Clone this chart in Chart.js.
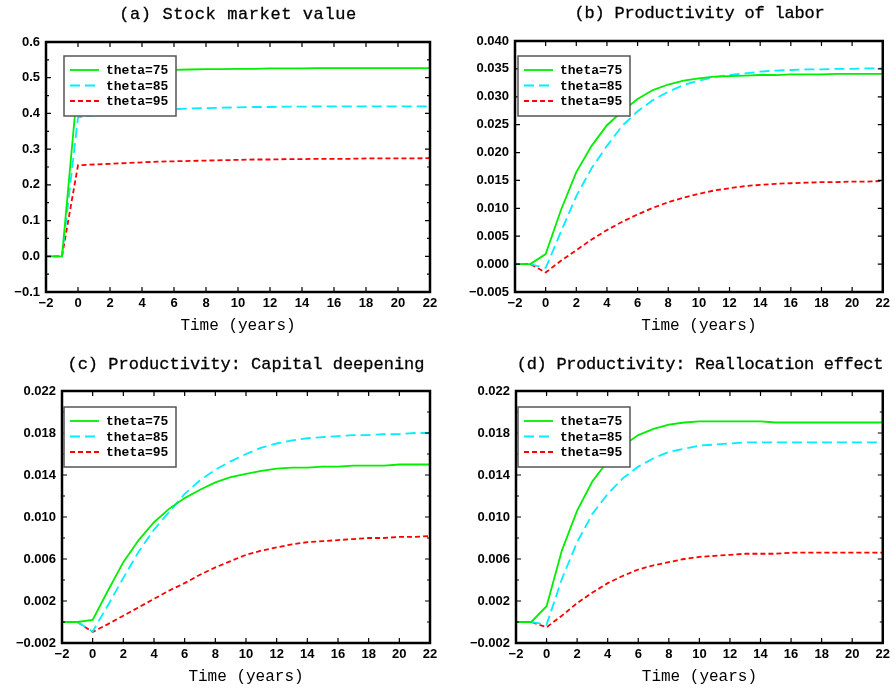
<!DOCTYPE html>
<html lang="en">
<head>
<meta charset="UTF-8">
<title>Productivity response</title>
<style>
    body { margin: 0; background: #fff; }
    .panel { position: absolute; width: 447px; height: 345px; }
    .ttl { position: absolute; font: 17px "Liberation Mono", monospace; color: #000;
           text-align: center; white-space: nowrap; line-height: 20px; -webkit-text-stroke: 0.3px #000; }
    canvas { position: absolute; left: 0; top: 0; }
</style>
</head>
<body>
<div class="panel" style="left:0;top:0">
    <canvas id="cA" width="447" height="345"></canvas>
    <div class="ttl" style="left:46px;width:384px;top:5px;letter-spacing:0.6px">(a) Stock market value</div>
</div>
<div class="panel" style="left:447px;top:0">
    <canvas id="cB" width="447" height="345"></canvas>
    <div class="ttl" style="left:68px;width:369px;top:4px;letter-spacing:-0.2px">(b) Productivity of labor</div>
</div>
<div class="panel" style="left:0;top:345px">
    <canvas id="cC" width="447" height="345"></canvas>
    <div class="ttl" style="left:62px;width:368px;top:10px">(c) Productivity: Capital deepening</div>
</div>
<div class="panel" style="left:447px;top:345px">
    <canvas id="cD" width="447" height="345"></canvas>
    <div class="ttl" style="left:69px;width:368px;top:10px;letter-spacing:-0.3px">(d) Productivity: Reallocation effect</div>
</div>

<script src="https://cdn.jsdelivr.net/npm/chart.js@4.4.1/dist/chart.umd.min.js"></script>
<script>
// time axis (years)
const years = [-2, -1, 0, 1, 2, 3, 4, 5, 6, 7, 8, 9, 10, 11, 12, 13, 14, 15, 16, 17, 18, 19, 20, 21, 22];
const seriesNames = ['theta=75', 'theta=85', 'theta=95'];
const xTicks = [-2, 0, 2, 4, 6, 8, 10, 12, 14, 16, 18, 20, 22];

// (a) stock market value
const stockT75 = [0, 0, 0.490, 0.505, 0.512, 0.516, 0.518, 0.520, 0.522, 0.523, 0.524, 0.524, 0.525, 0.525, 0.526, 0.526, 0.526, 0.527, 0.527, 0.527, 0.527, 0.527, 0.527, 0.527, 0.527];
const stockT85 = [0, 0, 0.389, 0.395, 0.400, 0.404, 0.407, 0.410, 0.412, 0.414, 0.415, 0.416, 0.417, 0.418, 0.418, 0.419, 0.419, 0.420, 0.420, 0.420, 0.420, 0.420, 0.420, 0.420, 0.420];
const stockT95 = [0, 0, 0.255, 0.257, 0.259, 0.261, 0.263, 0.265, 0.266, 0.267, 0.268, 0.269, 0.270, 0.271, 0.271, 0.272, 0.272, 0.273, 0.273, 0.273, 0.274, 0.274, 0.274, 0.274, 0.275];
const stockTicks = [-0.1, 0.0, 0.1, 0.2, 0.3, 0.4, 0.5, 0.6];

// (b) productivity of labor
const laborT75 = [0, 0, 0.0018, 0.0097, 0.0165, 0.0212, 0.0249, 0.0274, 0.0296, 0.0312, 0.0322, 0.0329, 0.0333, 0.0336, 0.0337, 0.0338, 0.0339, 0.0339, 0.0340, 0.0340, 0.0340, 0.0341, 0.0341, 0.0341, 0.0341];
const laborT85 = [0, 0, -0.0007, 0.0058, 0.0122, 0.0172, 0.0212, 0.0248, 0.0274, 0.0294, 0.0309, 0.0321, 0.0329, 0.0335, 0.0339, 0.0342, 0.0345, 0.0347, 0.0348, 0.0349, 0.0349, 0.0350, 0.0350, 0.0351, 0.0351];
const laborT95 = [0, 0, -0.0015, 0.0006, 0.0025, 0.0044, 0.0061, 0.0076, 0.0089, 0.0101, 0.0111, 0.0119, 0.0126, 0.0132, 0.0136, 0.0140, 0.0142, 0.0144, 0.0145, 0.0146, 0.0147, 0.0147, 0.0148, 0.0148, 0.0149];
const laborTicks = [-0.005, 0.000, 0.005, 0.010, 0.015, 0.020, 0.025, 0.030, 0.035, 0.040];

// (c) capital deepening
const capT75 = [0, 0, 0.0002, 0.0030, 0.0057, 0.0078, 0.0095, 0.0108, 0.0118, 0.0126, 0.0133, 0.0138, 0.0141, 0.0144, 0.0146, 0.0147, 0.0147, 0.0148, 0.0148, 0.0149, 0.0149, 0.0149, 0.0150, 0.0150, 0.0150];
const capT85 = [0, 0, -0.0009, 0.0016, 0.0042, 0.0067, 0.0088, 0.0105, 0.0122, 0.0135, 0.0145, 0.0153, 0.0160, 0.0166, 0.0170, 0.0173, 0.0175, 0.0176, 0.0177, 0.0178, 0.0178, 0.0179, 0.0179, 0.0180, 0.0180];
const capT95 = [0, 0, -0.00095, -0.0002, 0.0006, 0.0014, 0.0022, 0.0030, 0.0037, 0.0045, 0.0052, 0.0058, 0.0064, 0.0068, 0.0071, 0.0074, 0.0076, 0.0077, 0.0078, 0.0079, 0.0080, 0.0080, 0.0081, 0.0081, 0.0082];

// (d) reallocation effect
const reallocT75 = [0, 0, 0.0015, 0.0068, 0.0106, 0.0134, 0.0153, 0.0168, 0.0178, 0.0184, 0.0188, 0.0190, 0.0191, 0.0191, 0.0191, 0.0191, 0.0191, 0.0190, 0.0190, 0.0190, 0.0190, 0.0190, 0.0190, 0.0190, 0.0190];
const reallocT85 = [0, 0, -0.00025, 0.0041, 0.0076, 0.0103, 0.0122, 0.0137, 0.0148, 0.0156, 0.0162, 0.0165, 0.0168, 0.0169, 0.0170, 0.0171, 0.0171, 0.0171, 0.0171, 0.0171, 0.0171, 0.0171, 0.0171, 0.0171, 0.0171];
const reallocT95 = [0, 0, -0.0005, 0.0006, 0.0018, 0.0028, 0.0037, 0.0044, 0.0050, 0.0054, 0.0057, 0.0060, 0.0062, 0.0063, 0.0064, 0.0065, 0.0065, 0.0065, 0.0066, 0.0066, 0.0066, 0.0066, 0.0066, 0.0066, 0.0066];
const prodTicks = [-0.002, 0.002, 0.006, 0.010, 0.014, 0.018, 0.022];

const colors = ['#00ee00', '#00eeff', '#ff0000'];
const dashes = [[], [10, 5], [5, 3]];

// frame, inward ticks and boxed legend, like the original plots
const framePlugin = {
    id: 'frame',
    afterDraw(chart, args, opts) {
        const ctx = chart.ctx;
        const a = chart.chartArea;
        const xs = chart.scales.x, ys = chart.scales.y;
        ctx.save();
        ctx.strokeStyle = '#000';
        ctx.lineWidth = 1.2;
        ctx.beginPath();
        xTicks.forEach(v => {
            const px = xs.getPixelForValue(v);
            ctx.moveTo(px, a.bottom); ctx.lineTo(px, a.bottom - 5);
            ctx.moveTo(px, a.top); ctx.lineTo(px, a.top + 5);
        });
        opts.yTicks.forEach((v, i) => {
            const py = ys.getPixelForValue(v);
            ctx.moveTo(a.left, py); ctx.lineTo(a.left + 5, py);
            ctx.moveTo(a.right, py); ctx.lineTo(a.right - 5, py);
            if (opts.minor && i < opts.yTicks.length - 1) {
                const pm = ys.getPixelForValue((v + opts.yTicks[i + 1]) / 2);
                ctx.moveTo(a.left, pm); ctx.lineTo(a.left + 3, pm);
                ctx.moveTo(a.right, pm); ctx.lineTo(a.right - 3, pm);
            }
        });
        ctx.stroke();
        ctx.lineWidth = 2.5;
        ctx.strokeRect(a.left, a.top, a.right - a.left, a.bottom - a.top);

        // legend
        const lx = a.left + opts.legendDx, ly = a.top + opts.legendDy;
        ctx.fillStyle = '#fff';
        ctx.fillRect(lx, ly, 112, 60);
        ctx.strokeStyle = '#555';
        ctx.lineWidth = 1.5;
        ctx.strokeRect(lx, ly, 112, 60);
        ctx.font = 'bold 13px "Liberation Mono", monospace';
        ctx.textBaseline = 'middle';
        chart.data.datasets.forEach((ds, i) => {
            const yy = ly + 14 + i * 15.5;
            ctx.strokeStyle = ds.borderColor;
            ctx.lineWidth = 1.8;
            ctx.setLineDash(ds.borderDash);
            ctx.beginPath();
            ctx.moveTo(lx + 6, yy); ctx.lineTo(lx + 35, yy);
            ctx.stroke();
            ctx.setLineDash([]);
            ctx.fillStyle = '#000';
            ctx.fillText(ds.label, lx + 42, yy + 1);
        });
        ctx.restore();
    }
};

function makeChart(id, series, yTicks, decimals, box, legendDx, legendDy, minor) {
    const datasets = series.map((vals, i) => ({
        label: seriesNames[i],
        data: years.map((yr, k) => ({ x: yr, y: vals[k] })),
        borderColor: colors[i],
        borderDash: dashes[i],
        borderWidth: 1.8,
        pointRadius: 0,
        tension: 0,
        fill: false
    }));
    const xHeight = 47;
    return new Chart(document.getElementById(id), {
        type: 'line',
        data: { datasets: datasets },
        plugins: [framePlugin],
        options: {
            responsive: false,
            animation: false,
            devicePixelRatio: 1,
            layout: { padding: { top: box.top, right: 447 - box.right, left: 0, bottom: 345 - box.bottom - xHeight } },
            plugins: {
                legend: { display: false },
                tooltip: { enabled: false },
                frame: { yTicks: yTicks, minor: minor, legendDx: legendDx, legendDy: legendDy }
            },
            scales: {
                x: {
                    type: 'linear',
                    min: -2, max: 22,
                    grid: { display: false, drawTicks: false },
                    border: { display: false },
                    afterBuildTicks: s => { s.ticks = xTicks.map(v => ({ value: v })); },
                    afterFit: s => { s.height = xHeight; },
                    ticks: {
                        color: '#000', padding: 4, maxRotation: 0, autoSkip: false,
                        font: { family: '"Liberation Sans", Arial, sans-serif', size: 13, weight: 'bold' },
                        callback: v => String(v).replace('-', '\u2212')
                    },
                    title: {
                        display: true, text: 'Time (years)', color: '#000',
                        font: { family: '"Liberation Mono", monospace', size: 16 },
                        padding: { top: 0, bottom: 4 }
                    }
                },
                y: {
                    min: yTicks[0], max: yTicks[yTicks.length - 1],
                    grid: { display: false, drawTicks: false },
                    border: { display: false },
                    afterBuildTicks: s => { s.ticks = yTicks.map(v => ({ value: v })); },
                    afterFit: s => { s.width = box.left; },
                    ticks: {
                        color: '#000', padding: 6, autoSkip: false,
                        font: { family: '"Liberation Sans", Arial, sans-serif', size: 13, weight: 'bold' },
                        callback: v => Number(v).toFixed(decimals).replace('-', '\u2212')
                    }
                }
            }
        }
    });
}

makeChart('cA', [stockT75, stockT85, stockT95], stockTicks, 1,
    { left: 46, right: 430, top: 42, bottom: 292 }, 18, 14, true);
makeChart('cB', [laborT75, laborT85, laborT95], laborTicks, 3,
    { left: 68, right: 437, top: 41, bottom: 292 }, 3, 15, false);
makeChart('cC', [capT75, capT85, capT95], prodTicks, 3,
    { left: 62, right: 430, top: 46, bottom: 298 }, 2, 16, true);
makeChart('cD', [reallocT75, reallocT85, reallocT95], prodTicks, 3,
    { left: 69, right: 437, top: 46, bottom: 298 }, 2, 16, true);
</script>
</body>
</html>
